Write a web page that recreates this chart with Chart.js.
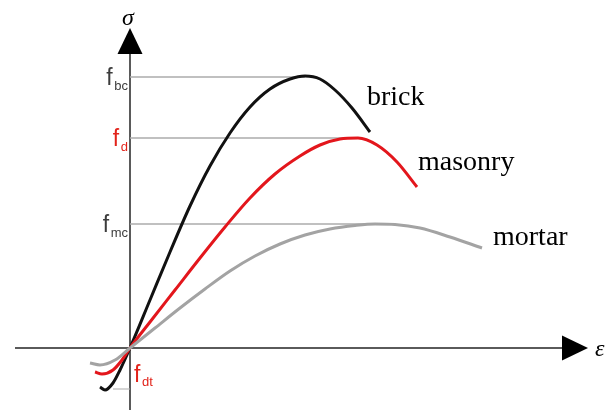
<!DOCTYPE html>
<html>
<head>
<meta charset="utf-8">
<script src="https://cdn.jsdelivr.net/npm/chart.js@4.4.1/dist/chart.umd.min.js"></script>
<style>
  html, body { margin: 0; padding: 0; background: #fff; }
  #wrap { width: 605px; height: 414px; position: relative; }
</style>
</head>
<body>
<div id="wrap"><canvas id="curves"></canvas></div>
<script>
// Stress-strain curves (arbitrary units, origin at zero strain / zero stress)
const brickStrain = [-3.0, -2.5, -1.7, -1.0, 0, 2, 4, 6, 8, 10, 12, 14, 16, 17.5, 19, 20.5, 22.2, 24.0];
const brickStress = [-3.9, -4.2, -3.5, -2.2, 0, 4.8, 9.6, 14.2, 18.2, 21.5, 24.1, 25.9, 26.9, 27.2, 26.9, 25.8, 24.0, 21.6];

const masonryStrain = [-3.5, -2.8, -1.7, -0.8, 0, 2.0, 4.5, 7.0, 9.5, 12.0, 14.5, 17.0, 19.0, 21.0, 22.8, 24.7, 26.7, 28.7];
const masonryStress = [-2.4, -2.6, -2.2, -1.2, 0, 2.6, 5.8, 9.0, 12.1, 15.0, 17.4, 19.2, 20.3, 20.9, 21.0, 20.3, 18.6, 16.1];

const mortarStrain = [-4.0, -3.0, -1.5, 0, 2.5, 5.0, 7.5, 10.0, 12.5, 15.0, 17.5, 20.0, 22.5, 24.5, 26.5, 29.0, 32.0, 35.2];
const mortarStress = [-1.5, -1.7, -1.2, 0, 2.0, 4.0, 5.9, 7.7, 9.2, 10.4, 11.3, 11.9, 12.25, 12.4, 12.35, 12.0, 11.1, 10.0];

// Strength levels: f_bc, f_d, f_mc and tensile f_dt
const levelSubs = ['bc', 'd', 'mc', 'dt'];
const levelStress = [27.1, 21.0, 12.4, -4.1];
const levelFrom = [0, 0, 0, -1.7];
const levelTo = [17.5, 22.8, 24.5, 0];

const curveNames = ['brick', 'masonry', 'mortar'];

const zip = (xs, ys) => xs.map((v, i) => ({ x: v, y: ys[i] }));

const pt = (scale, v) => scale.getPixelForValue(v);

// axes with arrow heads, drawn under the curves
const axesPlugin = {
  id: 'axes',
  beforeDatasetsDraw(chart) {
    const { ctx, scales: { x, y } } = chart;
    const ox = pt(x, 0);
    const oy = pt(y, 0);
    ctx.save();
    ctx.strokeStyle = '#5a5a5a';
    ctx.lineWidth = 2;
    ctx.beginPath();
    ctx.moveTo(pt(x, -11.5), oy);
    ctx.lineTo(pt(x, 43.5), oy);
    ctx.moveTo(ox, pt(y, -6.2));
    ctx.lineTo(ox, pt(y, 29.6));
    ctx.stroke();

    ctx.fillStyle = '#000';
    // strain arrow
    const tipX = pt(x, 45.8);
    ctx.beginPath();
    ctx.moveTo(tipX, oy);
    ctx.lineTo(tipX - 26, oy - 12.5);
    ctx.lineTo(tipX - 26, oy + 12.5);
    ctx.closePath();
    ctx.fill();
    // stress arrow
    const tipY = pt(y, 32.0);
    ctx.beginPath();
    ctx.moveTo(ox, tipY);
    ctx.lineTo(ox - 12.5, tipY + 26);
    ctx.lineTo(ox + 12.5, tipY + 26);
    ctx.closePath();
    ctx.fill();
    ctx.restore();
  },
  afterDatasetsDraw(chart) {
    const { ctx, scales: { x, y } } = chart;
    const ox = pt(x, 0);
    ctx.save();

    // curve names
    ctx.fillStyle = '#000';
    ctx.font = '28px "Liberation Serif", serif';
    ctx.textBaseline = 'alphabetic';
    const namePos = [[23.7, 24.3], [28.8, 17.8], [36.3, 10.3]];
    curveNames.forEach((name, i) => {
      ctx.fillText(name, pt(x, namePos[i][0]), pt(y, namePos[i][1]));
    });

    // axis symbols
    ctx.font = 'italic 24px "Liberation Serif", serif';
    ctx.fillText('σ', ox - 8, pt(y, 32.3));
    ctx.fillText('ε', pt(x, 46.5), pt(y, -0.75));

    // strength labels f with subscripts
    const colors = ['#3c3c3c', '#e2231a', '#3c3c3c', '#e2231a'];
    levelSubs.forEach((sub, i) => {
      const ly = pt(y, levelStress[i]);
      ctx.fillStyle = colors[i];
      ctx.font = '13px "Liberation Sans", sans-serif';
      const subW = ctx.measureText(sub).width;
      let fx, fy, sx, sy;
      if (i < 3) {
        sx = ox - 2 - subW;
        sy = ly + 13;
        fx = sx - 8;
        fy = ly + 8;
      } else {
        fx = ox + 4;
        fy = ly - 7;
        sx = fx + 8;
        sy = ly - 3;
      }
      ctx.fillText(sub, sx, sy);
      ctx.font = '23px "Liberation Sans", sans-serif';
      ctx.fillText('f', fx, fy);
    });
    ctx.restore();
  }
};

const levelSets = levelSubs.map((sub, i) => ({
  label: 'f' + sub,
  data: [{ x: levelFrom[i], y: levelStress[i] }, { x: levelTo[i], y: levelStress[i] }],
  borderColor: '#ababab',
  borderWidth: i < 3 ? 1.5 : 1,
  tension: 0,
  order: 5
}));

const curveStyle = (name, xs, ys, color) => ({
  label: name,
  data: zip(xs, ys),
  borderColor: color,
  borderWidth: 3,
  cubicInterpolationMode: 'monotone',
  order: 1
});

new Chart(document.getElementById('curves'), {
  type: 'scatter',
  data: {
    datasets: [
      curveStyle('mortar', mortarStrain, mortarStress, '#a3a3a3'),
      curveStyle('masonry', masonryStrain, masonryStress, '#e3161c'),
      curveStyle('brick', brickStrain, brickStress, '#111111'),
      ...levelSets
    ]
  },
  options: {
    responsive: true,
    maintainAspectRatio: false,
    animation: false,
    showLine: true,
    layout: { padding: 0, autoPadding: false },
    elements: { point: { radius: 0, hoverRadius: 0 } },
    plugins: {
      legend: { display: false },
      tooltip: { enabled: false }
    },
    scales: {
      x: { type: 'linear', min: -13, max: 47.5, display: false },
      y: { type: 'linear', min: -6.6, max: 34.8, display: false }
    }
  },
  plugins: [axesPlugin]
});
</script>
</body>
</html>
